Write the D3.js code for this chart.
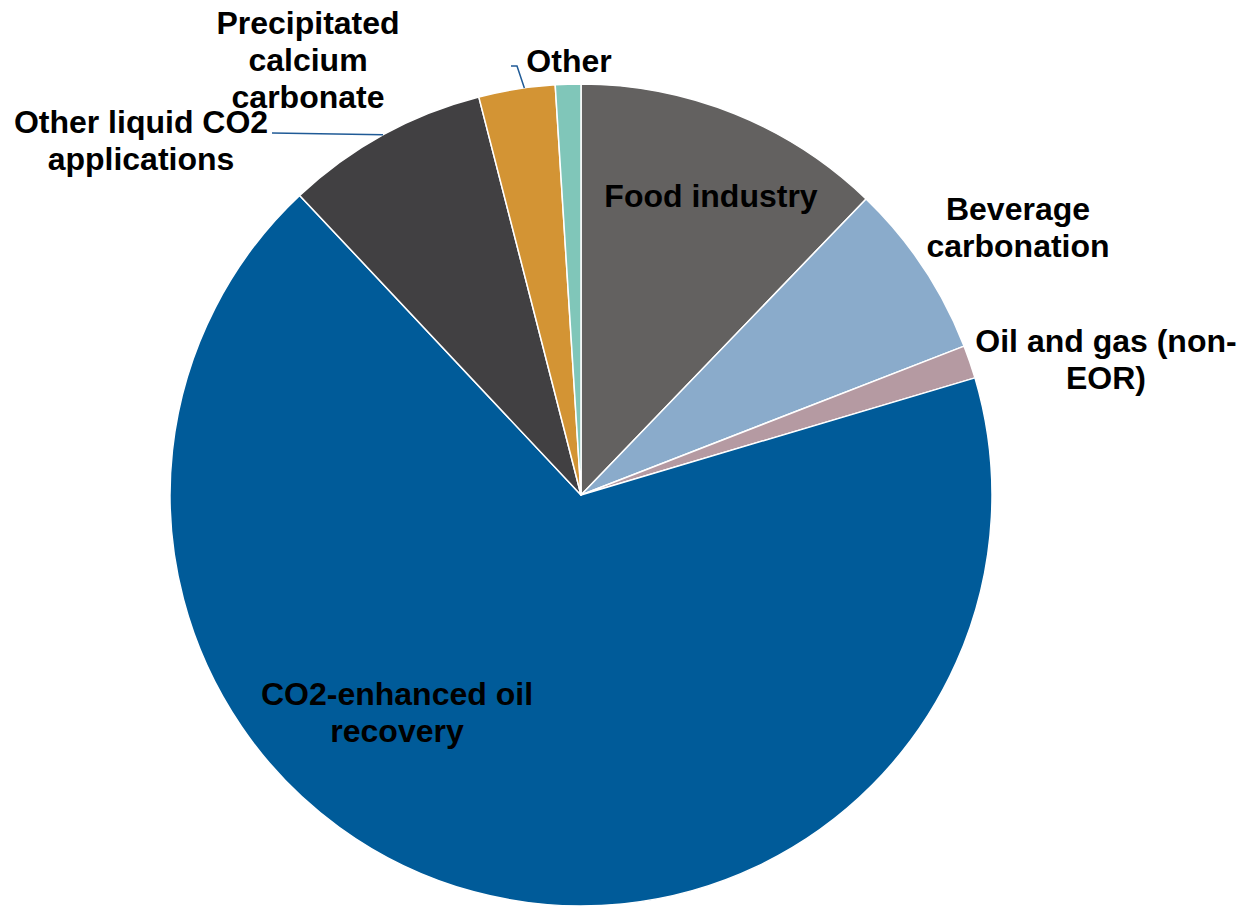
<!DOCTYPE html>
<html>
<head>
<meta charset="utf-8">
<script src="https://cdn.jsdelivr.net/npm/d3@7"></script>
<style>
  html, body { margin: 0; padding: 0; background: #fff; }
  svg { display: block; }
  text { font-family: "Liberation Sans", Arial, sans-serif; font-weight: bold; fill: #000; }
</style>
</head>
<body>
<div id="container"></div>
<script>
// Share of global CO2 demand by application (%), clockwise from 12 o'clock
const categories = [
    "Food industry",
    "Beverage carbonation",
    "Oil and gas (non-EOR)",
    "CO2-enhanced oil recovery",
    "Other liquid CO2 applications",
    "Precipitated calcium carbonate",
    "Other"
];
const shares = [12.2, 6.9, 1.3, 67.6, 8.0, 3.0, 1.0];
const colors = ["#636160", "#8aabcb", "#b59aa2", "#005b99", "#414042", "#d39434", "#80c6b9"];

// Label text lines and where they sit
const labelLines = [
    ["Food industry"],
    ["Beverage", "carbonation"],
    ["Oil and gas (non-", "EOR)"],
    ["CO2-enhanced oil", "recovery"],
    ["Other liquid CO2", "applications"],
    ["Precipitated", "calcium", "carbonate"],
    ["Other"]
];
const labelPos = [[711, 195], [1018, 227], [1106, 359], [397, 712], [141, 140], [308, 59], [569, 60]];

const width = 1245;
const height = 908;
const cx = 581, cy = 495, radius = 411;
const lineH = 37;

const svg = d3.select("#container").append("svg")
    .attr("width", width)
    .attr("height", height)
    .attr("viewBox", [0, 0, width, height]);

const pie = d3.pie().sort(null).value(d => d)(shares);
const arc = d3.arc().innerRadius(0).outerRadius(radius);

const g = svg.append("g").attr("transform", `translate(${cx},${cy})`);

g.selectAll("path")
    .data(pie)
    .join("path")
    .attr("d", arc)
    .attr("fill", (d, i) => colors[i])
    .attr("stroke", "#fff")
    .attr("stroke-width", 1.5)
    .attr("stroke-linejoin", "round");

// leader lines for the small slices at the top
const pt = (i, r, t) => {
    const a = pie[i].startAngle + (pie[i].endAngle - pie[i].startAngle) * t;
    return [cx + r * Math.sin(a), cy - r * Math.cos(a)];
};
const liq = pt(4, radius, 0.5);
svg.append("polyline")
    .attr("points", [[272, 133], liq].map(p => p.join(",")).join(" "))
    .attr("fill", "none").attr("stroke", "#1f5a96").attr("stroke-width", 1.5);
const oth = pt(5, radius, 0.6);
svg.append("polyline")
    .attr("points", [[511, 66], [517, 66], oth].map(p => p.join(",")).join(" "))
    .attr("fill", "none").attr("stroke", "#1f5a96").attr("stroke-width", 1.5);

// labels
labelLines.forEach((lines, i) => {
    const [x, y] = labelPos[i];
    const t = svg.append("text")
        .attr("text-anchor", "middle")
        .attr("font-size", 32);
    lines.forEach((s, k) => {
        t.append("tspan")
            .attr("x", x)
            .attr("y", y + (k - (lines.length - 1) / 2) * lineH)
            .attr("dy", "0.36em")
            .text(s);
    });
});
</script>
</body>
</html>
